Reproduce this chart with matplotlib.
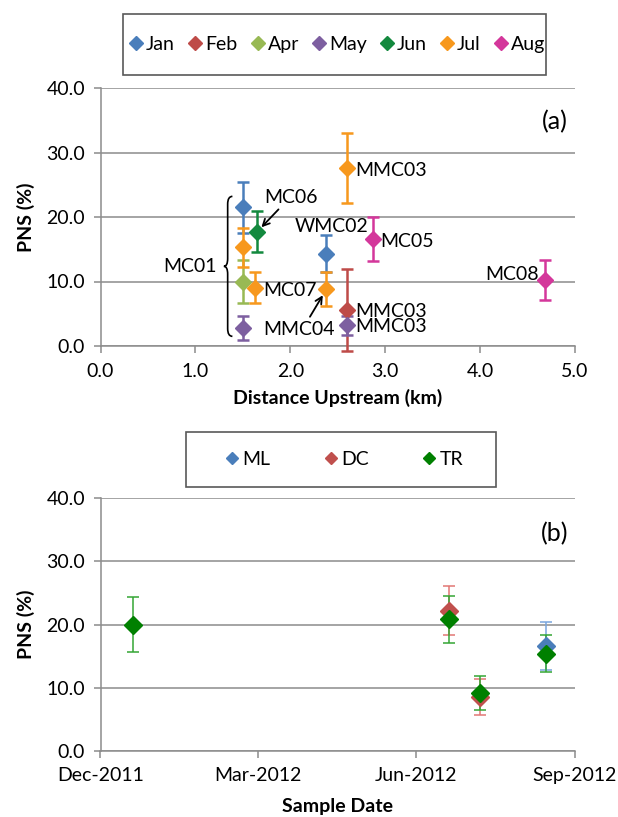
import datetime as dt
import matplotlib
matplotlib.use('Agg')
import matplotlib.pyplot as plt
import matplotlib.dates as mdates
from matplotlib.lines import Line2D
from matplotlib.patches import Rectangle, PathPatch
from matplotlib.path import Path
from matplotlib.ticker import FormatStrFormatter, MultipleLocator

plt.rcParams['font.family'] = ['Lato', 'DejaVu Sans']
plt.rcParams['font.size'] = 14

# (a) PNS vs distance upstream, one series per month
months = ['Jan', 'Feb', 'Apr', 'May', 'Jun', 'Jul', 'Aug']
month_colors = ['#4A7EBB', '#BE4B48', '#98B954', '#7D5FA0', '#13893E', '#F7981D', '#D4379B']
dist = {
    'Jan': [1.50, 2.38],
    'Feb': [2.60],
    'Apr': [1.50],
    'May': [1.50, 2.60],
    'Jun': [1.65],
    'Jul': [1.50, 1.63, 2.38, 2.60],
    'Aug': [2.87, 4.68],
}
pns = {
    'Jan': [21.5, 14.3],
    'Feb': [5.6],
    'Apr': [10.0],
    'May': [2.8, 3.2],
    'Jun': [17.7],
    'Jul': [15.3, 9.0, 8.8, 27.6],
    'Aug': [16.6, 10.3],
}
pns_err = {
    'Jan': [4.0, 2.9],
    'Feb': [6.3],
    'Apr': [3.3],
    'May': [1.8, 1.5],
    'Jun': [3.2],
    'Jul': [3.0, 2.4, 2.6, 5.4],
    'Aug': [3.4, 3.1],
}

# (b) PNS vs sample date per site
sites = ['ML', 'DC', 'TR']
site_colors = ['#4A7EBB', '#C0504D', '#008000']
site_err_colors = ['#79A6DE', '#E27774', '#34A534']
dates = {
    'ML': [dt.date(2012, 8, 15)],
    'DC': [dt.date(2012, 6, 20), dt.date(2012, 7, 8)],
    'TR': [dt.date(2011, 12, 20), dt.date(2012, 6, 20), dt.date(2012, 7, 8), dt.date(2012, 8, 15)],
}
site_pns = {
    'ML': [16.6],
    'DC': [22.2, 8.5],
    'TR': [20.0, 20.8, 9.2, 15.4],
}
site_err = {
    'ML': [3.8],
    'DC': [3.9, 2.8],
    'TR': [4.3, 3.7, 2.7, 2.9],
}
date_ticks = [dt.date(2011, 12, 1), dt.date(2012, 3, 1), dt.date(2012, 6, 1), dt.date(2012, 9, 1)]

grid_c = '#8C8C8C'
W, H = 618, 817
fig = plt.figure(figsize=(W / 100, H / 100), dpi=100)

def style_axes(ax):
    for s in ['top', 'right']:
        ax.spines[s].set_visible(False)
    for s in ['left', 'bottom']:
        ax.spines[s].set_color(grid_c)
        ax.spines[s].set_linewidth(1.1)
    ax.grid(axis='y', color=grid_c, linewidth=1.1)
    ax.set_axisbelow(True)
    ax.tick_params(direction='out', length=5, width=1.1, color=grid_c, pad=6, labelsize=14)
    ax.tick_params(axis='x', pad=7)
    ax.set_ylim(0, 40)
    ax.yaxis.set_major_locator(MultipleLocator(10))
    ax.yaxis.set_major_formatter(FormatStrFormatter('%.1f'))

# ---------- panel (a) ----------
ax1 = fig.add_axes([100.5 / W, 1 - 346 / H, 474.5 / W, 258 / H])
style_axes(ax1)
ax1.set_xlim(0, 5)
ax1.xaxis.set_major_locator(MultipleLocator(1))
ax1.xaxis.set_major_formatter(FormatStrFormatter('%.1f'))

for m, c in zip(months, month_colors):
    ax1.errorbar(dist[m], pns[m], yerr=pns_err[m], fmt='D', color=c, ms=8,
                 ecolor=c, elinewidth=1.8, capsize=4, capthick=1.8, clip_on=False, zorder=3)

ax1.set_xlabel('Distance Upstream (km)', fontweight='bold', labelpad=7)
ax1.set_ylabel('PNS (%)', fontweight='bold', labelpad=8)
ax1.text(0.985, 0.87, '(a)', transform=ax1.transAxes, ha='right', va='center', fontsize=18)

def label(ax, txt, x, y, dx, dy, ha='left'):
    ax.annotate(txt, xy=(x, y), xytext=(dx, dy), textcoords='offset points',
                ha=ha, va='center', fontsize=14, zorder=4)

label(ax1, 'MMC03', dist['Jul'][3], pns['Jul'][3], 6, -2)
label(ax1, 'MC05', dist['Aug'][0], pns['Aug'][0], 5.5, -2)
label(ax1, 'MMC03', dist['Feb'][0], pns['Feb'][0], 6, -1)
label(ax1, 'MMC03', dist['May'][1], pns['May'][1], 6, -1)
label(ax1, 'MC08', dist['Aug'][1], pns['Aug'][1], -4, 4, ha='right')
label(ax1, 'MC07', dist['Jul'][1], pns['Jul'][1], 5.5, -2)
label(ax1, 'WMC02', dist['Jan'][1], pns['Jan'][1], 3.6, 19.5, ha='center')

ax1.annotate('MC06', xy=(dist['Jun'][0], pns['Jun'][0]), xytext=(5.3, 25),
             textcoords='offset points', ha='left', va='center', fontsize=14,
             arrowprops=dict(arrowstyle='->', color='black', lw=1.3, relpos=(0.33, 0),
                             shrinkA=1, shrinkB=4.5, mutation_scale=12))
ax1.annotate('MMC04', xy=(dist['Jul'][2], pns['Jul'][2]), xytext=(-19.7, -28.8),
             textcoords='offset points', ha='center', va='center', fontsize=14,
             arrowprops=dict(arrowstyle='->', color='black', lw=1.3, relpos=(0.62, 1),
                             shrinkA=1, shrinkB=5, mutation_scale=12))

# curly brace grouping the MC01 points
bx, tipx, endx = 1.34, 1.30, 1.39
ytop, ybot = 23.2, 1.5
ymid = (ytop + ybot) / 2
d = 1.2
verts = [(endx, ytop), (bx, ytop), (bx, ytop - d), (bx, ymid + d), (bx, ymid), (tipx, ymid),
         (bx, ymid), (bx, ymid - d), (bx, ybot + d), (bx, ybot), (endx, ybot)]
codes = [Path.MOVETO, Path.CURVE3, Path.CURVE3, Path.LINETO, Path.CURVE3, Path.CURVE3,
         Path.CURVE3, Path.CURVE3, Path.LINETO, Path.CURVE3, Path.CURVE3]
ax1.add_patch(PathPatch(Path(verts, codes), facecolor='none', edgecolor='black', lw=1.2, zorder=4))
label(ax1, 'MC01', tipx, ymid, -5, 0, ha='right')

# ---------- panel (b) ----------
ax2 = fig.add_axes([100.5 / W, 1 - 750.7 / H, 474.5 / W, 252.4 / H])
style_axes(ax2)
ax2.set_xlim(date_ticks[0], date_ticks[-1])
ax2.set_xticks(date_ticks)
ax2.xaxis.set_major_formatter(mdates.DateFormatter('%b-%Y'))

for s, c, ec in zip(sites, site_colors, site_err_colors):
    ax2.errorbar(dates[s], site_pns[s], yerr=site_err[s], fmt='D', color=c, ms=9.5,
                 ecolor=ec, elinewidth=1.1, capsize=4, capthick=1.1, clip_on=False, zorder=3)

ax2.set_xlabel('Sample Date', fontweight='bold', labelpad=10)
ax2.set_ylabel('PNS (%)', fontweight='bold', labelpad=8)
ax2.text(0.985, 0.86, '(b)', transform=ax2.transAxes, ha='right', va='center', fontsize=18)

# ---------- legends ----------
box_c = '#595959'
fig.patches.append(Rectangle((123 / W, 1 - 75 / H), 423 / W, 61 / H, transform=fig.transFigure,
                             facecolor='white', edgecolor=box_c, lw=1.2))
h1 = [Line2D([], [], marker='D', ls='none', color=c, ms=7) for c in month_colors]
fig.legend(h1, months, ncol=7, loc='center', bbox_to_anchor=(336 / W, 1 - 44.5 / H),
           frameon=False, handletextpad=0.0, columnspacing=0.55, handlelength=1.0, fontsize=14)

fig.patches.append(Rectangle((186 / W, 1 - 487 / H), 310 / W, 55 / H, transform=fig.transFigure,
                             facecolor='white', edgecolor=box_c, lw=1.2))
h2 = [Line2D([], [], marker='D', ls='none', color=c, ms=6) for c in site_colors]
fig.legend(h2, sites, ncol=3, loc='center', bbox_to_anchor=(343 / W, 1 - 459.5 / H),
           frameon=False, handletextpad=0.05, columnspacing=2.6, handlelength=1.0, fontsize=14)

fig.savefig('out.png', dpi=100)
